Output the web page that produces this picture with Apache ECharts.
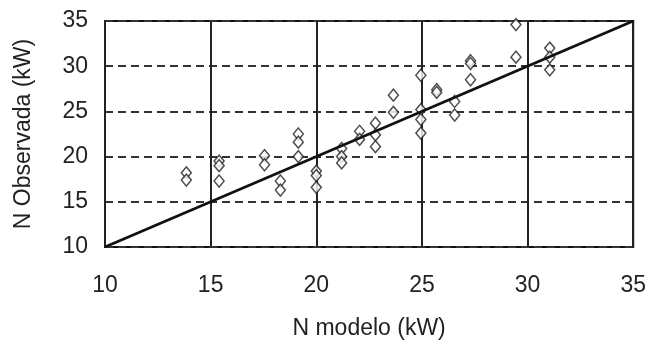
<!DOCTYPE html>
<html><head><meta charset="utf-8">
<script src="https://cdn.jsdelivr.net/npm/echarts@6/dist/echarts.min.js"></script>
<style>html,body{margin:0;padding:0;background:#fff}#c{width:649px;height:345px}</style>
</head><body><div id="c"></div>
<script>
const modelX = [13.85,13.85, 15.4,15.4,15.4, 17.55,17.55, 18.3,18.3, 19.15,19.15,19.15, 20.0,20.0,20.0, 21.2,21.2,21.2, 22.05,22.05, 22.8,22.8,22.8, 23.65,23.65, 24.95,24.95,24.95,24.95, 25.7,25.7, 26.55,26.55, 27.3,27.3,27.3, 29.45,29.45, 31.05,31.05,31.05];
const observedY = [18.2,17.4, 19.5,19.0,17.3, 20.1,19.1, 17.3,16.3, 22.5,21.6,20.0, 18.4,17.9,16.6, 20.9,20.0,19.3, 22.8,21.9, 23.7,22.4,21.1, 26.8,24.9, 29.0,25.2,24.1,22.6, 27.4,27.1, 26.1,24.6, 30.6,30.3,28.5, 34.6,31.0, 32.0,31.0,29.6];
const lineX = [10, 35];
const lineY = [10, 35];
const axisMin = 10, axisMax = 35, axisStep = 5;
const xTitle = 'N modelo (kW)';
const yTitle = 'N Observada (kW)';

const font = 'Liberation Sans, Arial, sans-serif';
const chart = echarts.init(document.getElementById('c'), null, {renderer:'canvas'});
chart.setOption({
  animation:false,
  backgroundColor:'#fff',
  grid:{left:105, right:10, top:21, bottom:97, show:true, borderColor:'#111', borderWidth:2, backgroundColor:'transparent'},
  xAxis:{
    type:'value', min:axisMin, max:axisMax, interval:axisStep,
    name:xTitle, nameLocation:'middle', nameGap:70,
    nameTextStyle:{fontFamily:font, fontSize:23, color:'#222'},
    axisLine:{show:false}, axisTick:{show:false},
    axisLabel:{fontFamily:font, fontSize:23, color:'#222', margin:27},
    splitLine:{show:true, lineStyle:{color:'#222', width:2, type:'solid'}}
  },
  yAxis:{
    type:'value', min:axisMin, max:axisMax, interval:axisStep,
    name:yTitle, nameLocation:'middle', nameGap:70,
    nameTextStyle:{fontFamily:font, fontSize:23, color:'#222'},
    axisLine:{show:false}, axisTick:{show:false},
    axisLabel:{fontFamily:font, fontSize:23, color:'#222', margin:17},
    splitLine:{show:true, lineStyle:{color:'#333', width:2, type:[8,5]}}
  },
  series:[
    {type:'scatter', data:modelX.map((x,i)=>[x, observedY[i]]), symbol:'diamond', symbolSize:[10,12],
     itemStyle:{color:'#fff', borderColor:'#222', borderWidth:1.5}, z:3},
    {type:'line', data:lineX.map((x,i)=>[x, lineY[i]]), showSymbol:false, symbol:'none',
     lineStyle:{color:'#111', width:2.8}, z:4}
  ]
});
</script></body></html>
